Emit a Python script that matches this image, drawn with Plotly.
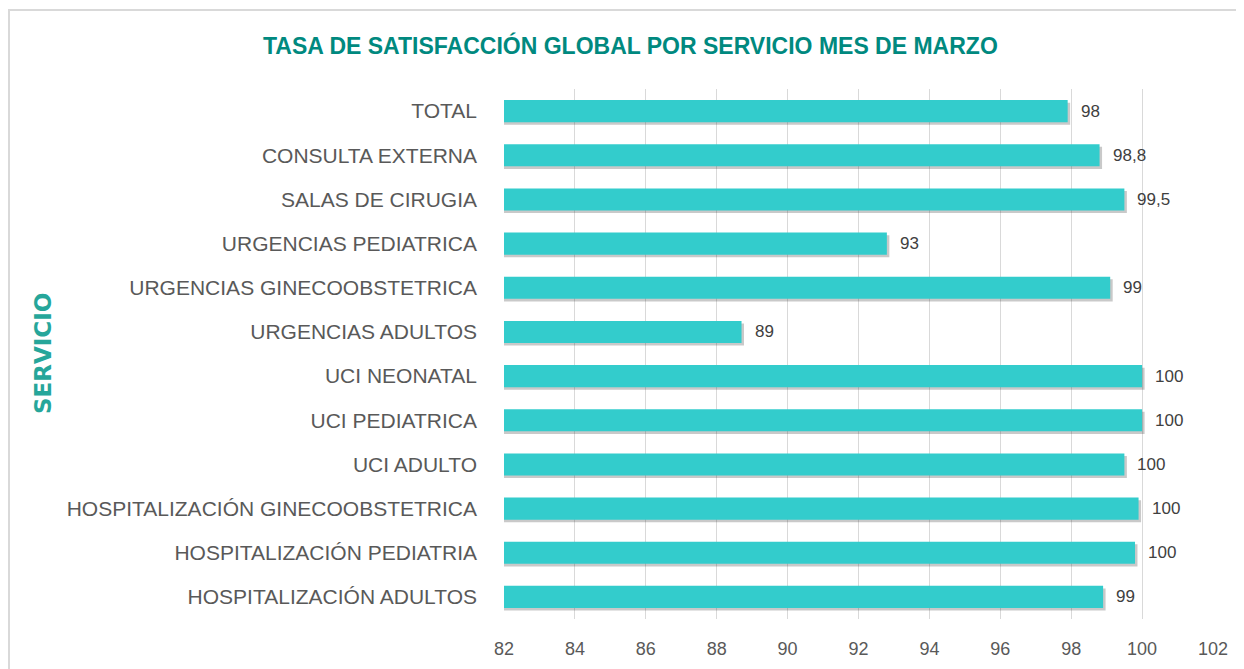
import plotly.graph_objects as go

categories = [
    "TOTAL", "CONSULTA EXTERNA", "SALAS DE CIRUGIA", "URGENCIAS PEDIATRICA",
    "URGENCIAS GINECOOBSTETRICA", "URGENCIAS ADULTOS", "UCI NEONATAL",
    "UCI PEDIATRICA", "UCI ADULTO", "HOSPITALIZACIÓN GINECOOBSTETRICA",
    "HOSPITALIZACIÓN PEDIATRIA", "HOSPITALIZACIÓN ADULTOS",
]
values = [97.9, 98.8, 99.5, 92.8, 99.1, 88.7, 100.0, 100.0, 99.5, 99.9, 99.8, 98.9]
value_labels = ["98", "98,8", "99,5", "93", "99", "89", "100", "100", "100", "100", "100", "99"]
x_ticks = [82, 84, 86, 88, 90, 92, 94, 96, 98, 100, 102]
BASE = 82

# page body has an 8px margin: figure coordinates = screen - 8
W, H = 1244, 669
L, R, T, B = 496, 39, 81, 58
PW, PH = W - L - R, H - T - B
FONT = "Liberation Sans, Arial, sans-serif"

fig = go.Figure()
# soft shadow (below / right of each bar)
fig.add_trace(go.Bar(
    y=categories, x=[v - BASE + 0.07 for v in values], base=BASE, orientation="h",
    marker=dict(color="rgba(60,60,60,0.28)", line=dict(width=0)),
    offset=-0.25 - 0.06, width=0.5, hoverinfo="skip",
))
fig.add_trace(go.Bar(
    y=categories, x=[v - BASE for v in values], base=BASE, orientation="h",
    marker=dict(color="#33CCCC", line=dict(width=0)),
    offset=-0.25, width=0.5, hoverinfo="skip",
))

annotations = [
    dict(text=lab, x=v, y=c, xref="x", yref="y", xanchor="left", yanchor="middle",
         xshift=11, showarrow=False,
         font=dict(family=FONT, size=17, color="#404040"))
    for c, v, lab in zip(categories, values, value_labels)
]
annotations += [
    dict(text="<b>TASA DE SATISFACCIÓN GLOBAL POR SERVICIO MES DE MARZO</b>",
         xref="paper", yref="paper",
         x=(622 - L) / PW, y=1 + (T - 37) / PH,
         xanchor="center", yanchor="middle", showarrow=False,
         font=dict(family=FONT, size=23, color="#00897F")),
    dict(text="<b>SERVICIO</b>", xref="paper", yref="paper",
         x=(35 - L) / PW, y=(H - B - 346) / PH,
         xanchor="center", yanchor="middle", textangle=-90, showarrow=False,
         font=dict(family="DejaVu Sans, sans-serif", size=23, color="#26A69A")),
]

fx = lambda px: (px - L) / PW          # figure px -> paper x
fy = lambda py: (H - B - py) / PH      # figure px -> paper y

fig.update_layout(
    width=W, height=H,
    margin=dict(l=L, r=R, t=T, b=B),
    paper_bgcolor="white", plot_bgcolor="white",
    showlegend=False, barmode="overlay",
    font=dict(family=FONT, color="#595959"),
    xaxis=dict(
        range=[82, 102], tickvals=x_ticks, ticktext=[str(t) for t in x_ticks],
        showgrid=True, gridcolor="#D9D9D9", gridwidth=1,
        zeroline=False, showline=False, ticks="",
        tickfont=dict(family=FONT, size=18, color="#595959"),
        ticklabelstandoff=17,
    ),
    yaxis=dict(
        categoryorder="array", categoryarray=categories[::-1],
        autorange=False, range=[-0.5, len(categories) - 0.5],
        showgrid=False, zeroline=False, showline=False, ticks="",
        tickfont=dict(family=FONT, size=21, color="#595959"),
        ticklabelstandoff=26,
    ),
    shapes=[
        dict(type="line", xref="paper", yref="paper",
             x0=fx(1), x1=fx(1), y0=fy(2), y1=fy(H + 5),
             line=dict(color="#D9D9D9", width=2), layer="below"),
        dict(type="line", xref="paper", yref="paper",
             x0=fx(0), x1=fx(W + 5), y0=fy(2), y1=fy(2),
             line=dict(color="#D9D9D9", width=2), layer="below"),
    ],
    annotations=annotations,
)

fig.write_html("out.html")
